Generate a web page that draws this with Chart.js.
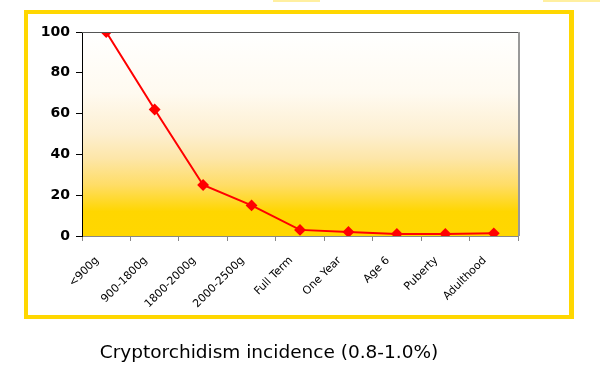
<!DOCTYPE html>
<html lang="en">
<head>
    <meta charset="UTF-8">
    <title>Cryptorchidism incidence</title>
    <style>
        body {
            margin: 0;
            width: 600px;
            height: 380px;
            background: #fff;
            position: relative;
            overflow: hidden;
            font-family: "DejaVu Sans", sans-serif;
        }
        .frame {
            position: absolute;
            left: 24px;
            top: 10px;
            width: 541px;
            height: 301px;
            border: 4px solid #FFD700;
            border-right-width: 5px;
        }
        .strip {
            position: absolute;
            top: 0;
            height: 2px;
            background: #FFEFA0;
        }
        .chart-box {
            position: absolute;
            left: 0;
            top: 0;
            width: 600px;
            height: 380px;
        }
        .caption {
            position: absolute;
            left: 0;
            width: 538px;
            top: 341px;
            text-align: center;
            font-size: 18.5px;
            color: #000;
        }
    </style>
</head>
<body>
    <div class="strip" style="left:273px;width:47px"></div>
    <div class="strip" style="left:543px;width:57px"></div>
    <div class="frame"></div>
    <div class="chart-box"><canvas id="chart" width="600" height="380"></canvas></div>
    <div class="caption">Cryptorchidism incidence (0.8-1.0%)</div>
    <script src="https://cdn.jsdelivr.net/npm/chart.js"></script>
    <script>
        const categories = ['<900g', '900-1800g', '1800-2000g', '2000-2500g', 'Full Term', 'One Year', 'Age 6', 'Puberty', 'Adulthood'];
        const incidence = [100, 62, 25, 15, 3, 2, 1, 1, 1.3];
        const yTicks = [0, 20, 40, 60, 80, 100];

        // plot area background + frame lines
        const plotBackground = {
            id: 'plotBackground',
            beforeDraw(chart) {
                const { ctx, chartArea: a } = chart;
                const grad = ctx.createLinearGradient(0, a.top, 0, a.bottom);
                grad.addColorStop(0, '#ffffff');
                grad.addColorStop(0.3, '#FFFAF0');
                grad.addColorStop(0.5, '#FDEFD0');
                grad.addColorStop(0.62, '#FDE6A8');
                grad.addColorStop(0.75, '#FFDD66');
                grad.addColorStop(0.88, '#FFD600');
                grad.addColorStop(1, '#FFD700');
                ctx.save();
                ctx.fillStyle = grad;
                ctx.fillRect(a.left, a.top, a.right - a.left, a.bottom - a.top);
                ctx.restore();
            },
            afterDatasetsDraw(chart) {
                const { ctx, chartArea: a } = chart;
                ctx.save();
                ctx.strokeStyle = '#555';
                ctx.lineWidth = 1;
                ctx.beginPath();
                ctx.moveTo(a.left, a.top + 0.5);
                ctx.lineTo(a.right, a.top + 0.5);
                ctx.stroke();
                ctx.strokeStyle = '#999';
                ctx.lineWidth = 2;
                ctx.beginPath();
                ctx.moveTo(a.right + 1, a.top);
                ctx.lineTo(a.right + 1, a.bottom);
                ctx.stroke();
                ctx.restore();
            }
        };

        new Chart(document.getElementById('chart'), {
            type: 'line',
            data: {
                labels: categories,
                datasets: [{
                    data: incidence,
                    borderColor: '#FF0000',
                    backgroundColor: '#FF0000',
                    borderWidth: 2,
                    pointStyle: 'rectRot',
                    pointRadius: 4.5,
                    pointHoverRadius: 4.5,
                    tension: 0
                }]
            },
            options: {
                responsive: false,
                animation: false,
                layout: { padding: { left: 0, top: 32, right: 82, bottom: 0 } },
                plugins: {
                    legend: { display: false },
                    tooltip: { enabled: false }
                },
                scales: {
                    x: {
                        offset: true,
                        afterFit: s => { s.height = 144; },
                        grid: {
                            offset: true,
                            drawOnChartArea: false,
                            tickLength: 5,
                            color: '#888'
                        },
                        border: { color: '#888', width: 1 },
                        ticks: {
                            minRotation: 45,
                            maxRotation: 45,
                            autoSkip: false,
                            padding: 13,
                            labelOffset: -9,
                            color: '#000',
                            font: { family: 'DejaVu Sans', size: 11 }
                        }
                    },
                    y: {
                        min: 0,
                        max: 100,
                        afterFit: s => { s.width = 82; },
                        afterBuildTicks: s => { s.ticks = yTicks.map(v => ({ value: v })); },
                        grid: {
                            drawOnChartArea: false,
                            tickLength: 6,
                            color: '#000'
                        },
                        border: { color: '#000', width: 1 },
                        ticks: {
                            padding: 6,
                            color: '#000',
                            font: { family: 'DejaVu Sans', size: 14, weight: 'bold' }
                        }
                    }
                }
            },
            plugins: [plotBackground]
        });
    </script>
</body>
</html>
